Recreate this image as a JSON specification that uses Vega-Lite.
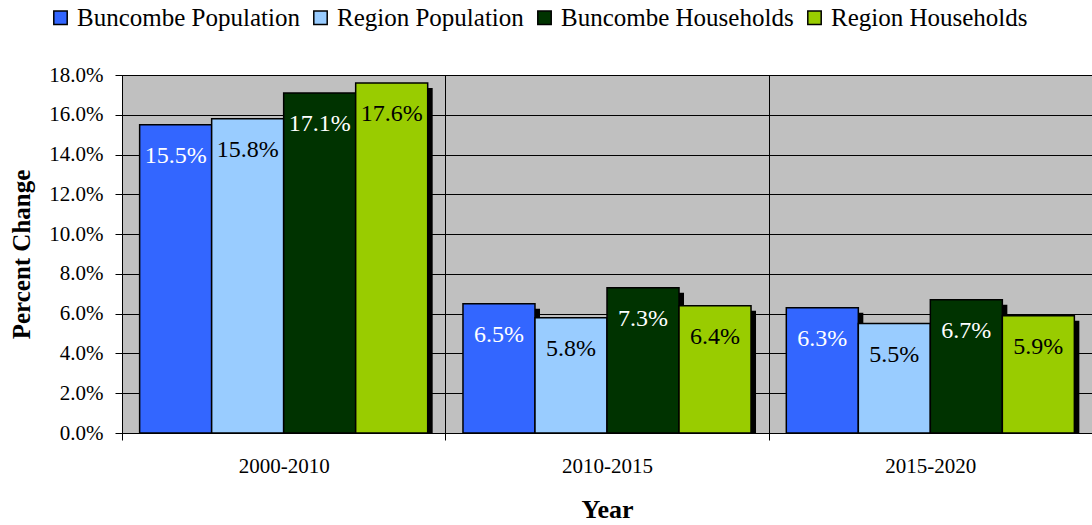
{
  "$schema": "https://vega.github.io/schema/vega-lite/v6.json",
  "width": 970,
  "height": 358,
  "autosize": {"type": "none"},
  "padding": {"left": 122, "top": 75, "right": 0, "bottom": 92},
  "background": "white",
  "config": {
    "font": "Liberation Serif",
    "view": {"fill": "#C0C0C0", "stroke": "#808080"},
    "legend": {"labelFont": "Liberation Serif", "titleFont": "Liberation Serif"},
    "axis": {"labelFont": "Liberation Serif", "titleFont": "Liberation Serif"},
    "text": {"font": "Liberation Serif"}
  },
  "data": {
    "values": [
      {"period": "2000-2010", "series": "Buncombe Population", "value": 0.155},
      {"period": "2000-2010", "series": "Region Population", "value": 0.158},
      {"period": "2000-2010", "series": "Buncombe Households", "value": 0.171},
      {"period": "2000-2010", "series": "Region Households", "value": 0.176},
      {"period": "2010-2015", "series": "Buncombe Population", "value": 0.065},
      {"period": "2010-2015", "series": "Region Population", "value": 0.058},
      {"period": "2010-2015", "series": "Buncombe Households", "value": 0.073},
      {"period": "2010-2015", "series": "Region Households", "value": 0.064},
      {"period": "2015-2020", "series": "Buncombe Population", "value": 0.063},
      {"period": "2015-2020", "series": "Region Population", "value": 0.055},
      {"period": "2015-2020", "series": "Buncombe Households", "value": 0.067},
      {"period": "2015-2020", "series": "Region Households", "value": 0.059}
    ]
  },
  "encoding": {
    "x": {
      "field": "period", "type": "nominal",
      "scale": {"paddingInner": 0, "paddingOuter": 0},
      "axis": {
        "tickBand": "extent", "grid": true, "gridColor": "#000000", "gridWidth": 1,
        "domain": true, "domainColor": "#000000", "tickColor": "#000000", "tickSize": 7,
        "labelAngle": 0, "labelFontSize": 21, "labelColor": "#000000", "labelPadding": 15,
        "labelFont": "Liberation Serif",
        "title": "Year", "titleFontSize": 26, "titleFontWeight": "bold", "titleColor": "#000000", "titlePadding": 20,
        "titleFont": "Liberation Serif"
      }
    },
    "y": {
      "field": "value", "type": "quantitative",
      "scale": {"domain": [0, 0.18], "nice": false},
      "axis": {
        "values": [0, 0.02, 0.04, 0.06, 0.08, 0.10, 0.12, 0.14, 0.16, 0.18],
        "format": ".1%", "grid": true, "gridColor": "#000000", "gridWidth": 1,
        "domainColor": "#000000", "tickColor": "#000000", "tickSize": 7,
        "labelFontSize": 21, "labelColor": "#000000", "labelPadding": 12, "labelFont": "Liberation Serif",
        "title": "Percent Change", "titleFontSize": 25, "titleFontWeight": "bold", "titleColor": "#000000", "titlePadding": 14,
        "titleFont": "Liberation Serif"
      }
    }
  },
  "layer": [
    {
      "mark": {"type": "bar", "color": "#000000", "yOffset": 5, "clip": true},
      "encoding": {
        "xOffset": {
          "field": "series", "type": "nominal",
          "sort": ["Buncombe Population", "Region Population", "Buncombe Households", "Region Households"],
          "scale": {"paddingInner": 0, "paddingOuter": 0.245, "range": [5, 328.33]}
        }
      }
    },
    {
      "encoding": {
        "xOffset": {
          "field": "series", "type": "nominal",
          "sort": ["Buncombe Population", "Region Population", "Buncombe Households", "Region Households"],
          "scale": {"paddingInner": 0, "paddingOuter": 0.245}
        }
      },
      "layer": [
        {
          "mark": {"type": "bar", "stroke": "#000000", "strokeWidth": 1.5},
          "encoding": {
            "color": {
              "field": "series", "type": "nominal",
              "sort": ["Buncombe Population", "Region Population", "Buncombe Households", "Region Households"],
              "scale": {
                "domain": ["Buncombe Population", "Region Population", "Buncombe Households", "Region Households"],
                "range": ["#3366FF", "#99CCFF", "#003300", "#99CC00"]
              },
              "legend": {
                "title": null, "orient": "none", "direction": "horizontal",
                "legendX": -74, "legendY": -70,
                "symbolType": "square", "symbolSize": 180, "symbolStrokeColor": "#000000", "symbolStrokeWidth": 1.5,
                "symbolOpacity": 1, "labelFont": "Liberation Serif",
                "labelFontSize": 25, "labelColor": "#000000", "labelOffset": 4, "columnPadding": 8,
                "labelLimit": 400
              }
            }
          }
        },
        {
          "mark": {"type": "text", "fontSize": 24, "baseline": "middle", "dy": 31, "font": "Liberation Serif"},
          "encoding": {
            "text": {"field": "value", "type": "quantitative", "format": ".1%"},
            "color": {
              "condition": {"test": "indexof(datum.series, 'Buncombe') >= 0", "value": "#FFFFFF"},
              "value": "#000000"
            }
          }
        }
      ]
    }
  ],
  "resolve": {"scale": {"xOffset": "independent"}}
}
